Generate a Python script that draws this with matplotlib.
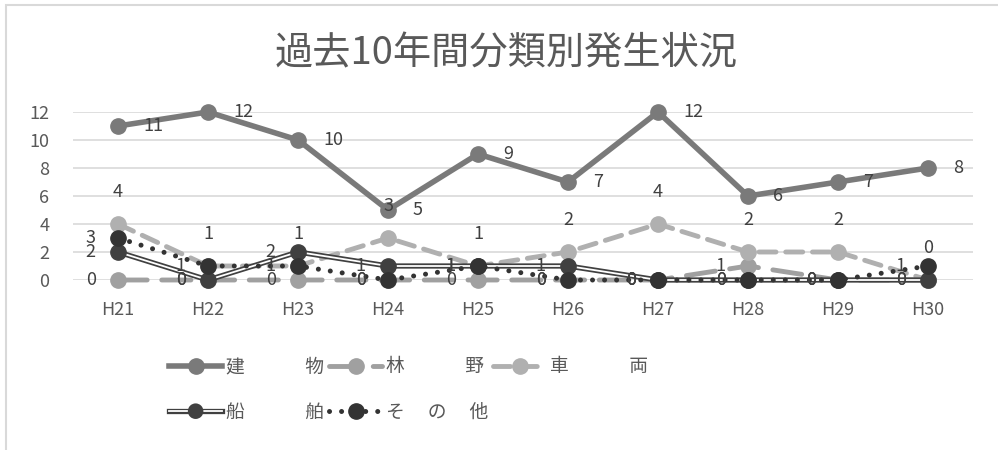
import matplotlib
matplotlib.use("Agg")
import matplotlib.pyplot as plt
import matplotlib.patheffects as pe
from matplotlib.lines import Line2D
from matplotlib.patches import Rectangle

plt.rcParams["font.family"] = ["Noto Sans CJK JP", "DejaVu Sans"]

TEXT = "#595959"; LABEL = "#404040"; GRID = "#d9d9d9"
C_BLD = "#7a7a7a"; C_FOR = "#a0a0a0"; C_VEH = "#b0b0b0"; C_DARK = "#404040"

years = ["H21", "H22", "H23", "H24", "H25", "H26", "H27", "H28", "H29", "H30"]
building = [11, 12, 10, 5, 9, 7, 12, 6, 7, 8]
forest = [0, 0, 0, 0, 0, 0, 0, 1, 0, 0]
vehicle = [4, 1, 1, 3, 1, 2, 4, 2, 2, 0]
ship = [2, 0, 2, 1, 1, 1, 0, 0, 0, 0]
other = [3, 1, 1, 0, 1, 0, 0, 0, 0, 1]
names = ["建　　　 物", "林　　　 野", "車　　　 両", "船　　　 舶", "そ　 の　 他"]

fig = plt.figure(figsize=(9.98, 4.5), dpi=100)
ax = fig.add_axes([73 / 998, 170 / 450, 900 / 998, 168 / 450])
x = list(range(len(years)))
MS = 11

h_bld, = ax.plot(x, building, color=C_BLD, lw=4, marker="o", ms=MS, clip_on=False, zorder=3)
h_for, = ax.plot(x, forest, color=C_FOR, lw=3.5, marker="o", ms=MS, clip_on=False, zorder=4,
                 dashes=(6, 3), dash_capstyle="round")
h_veh, = ax.plot(x, vehicle, color=C_VEH, lw=3.5, marker="o", ms=MS, clip_on=False, zorder=5,
                 dashes=(3.5, 2), dash_capstyle="round")
# 船舶: 二重線 (濃い太線 + 白い細線)
ax.plot(x, ship, color=C_DARK, lw=3.8, clip_on=False, zorder=6)
ax.plot(x, ship, color="white", lw=1.3, clip_on=False, zorder=6)
ax.plot(x, ship, ls="none", color=C_DARK, marker="o", ms=MS, clip_on=False, zorder=6)
h_oth, = ax.plot(x, other, color="#333333", lw=3.6, marker="o", ms=MS, clip_on=False, zorder=7,
                 dashes=(0.01, 2.4), dash_capstyle="round")

h_ship = Line2D([], [], color="white", lw=1.3, marker="o", ms=7.4, mfc=C_DARK, mec=C_DARK,
                path_effects=[pe.Stroke(linewidth=3.8, foreground=C_DARK), pe.Normal()])

offsets = {"right": ((18, 0), "left", "center"),
           "left": ((-16, 0), "right", "center"),
           "above": ((0, 23), "center", "center")}
for vals, where in [(building, "right"), (forest, "left"), (vehicle, "above"),
                    (ship, "left"), (other, "left")]:
    off, ha, va = offsets[where]
    for xi, v in zip(x, vals):
        ax.annotate(str(v), (xi, v), xytext=off, textcoords="offset points",
                    ha=ha, va=va, fontsize=13, color=LABEL, zorder=10)

ax.set_xlim(-0.5, len(years) - 0.5)
ax.set_ylim(0, 12)
ax.set_yticks(range(0, 13, 2))
ax.set_xticks(x, years)
ax.grid(axis="y", color=GRID, lw=1.2, zorder=0)
ax.set_axisbelow(True)
for s in ax.spines.values():
    s.set_visible(False)
ax.tick_params(length=0, labelsize=13, colors=TEXT)
ax.tick_params(axis="y", pad=17)
ax.tick_params(axis="x", pad=15)

fig.text(506 / 998, 1 - 54 / 450, "過去10年間分類別発生状況", ha="center", va="center",
         fontsize=27.5, color=TEXT)

# 行優先に並べるため列順で渡す
order = [0, 3, 1, 4, 2]
handles = [h_bld, h_for, h_veh, h_ship, h_oth]
leg = fig.legend([handles[i] for i in order], [names[i] for i in order], loc="upper left",
                 bbox_to_anchor=(160 / 998, 1 - 347 / 450), ncol=3, frameon=False,
                 fontsize=13.5, handlelength=2.8, handletextpad=0.2, columnspacing=0.3,
                 labelspacing=1.3, borderpad=0)
for t in leg.get_texts():
    t.set_color(TEXT)

fig.add_artist(Rectangle((6 / 998, -0.2), 1.2, 1.2 - 5 / 450, transform=fig.transFigure,
                         fill=False, edgecolor=GRID, lw=1.5))

fig.savefig("out.png", dpi=100)
